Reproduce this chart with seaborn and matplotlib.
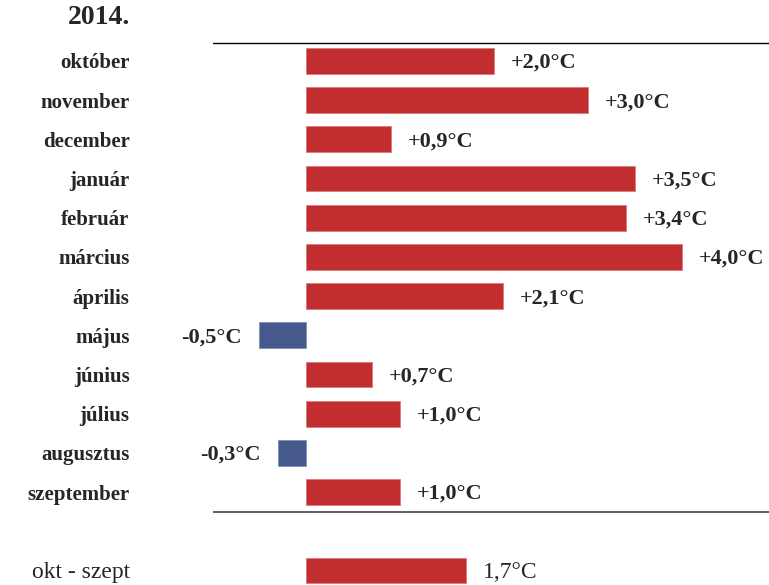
import pandas as pd
import seaborn as sns
import matplotlib.pyplot as plt
from matplotlib.transforms import blended_transform_factory

# havi eltérések 2014
honapok = ['október', 'november', 'december', 'január', 'február', 'március',
           'április', 'május', 'június', 'július', 'augusztus', 'szeptember']
ertekek = [2.0, 3.0, 0.9, 3.5, 3.4, 4.0, 2.1, -0.5, 0.7, 1.0, -0.3, 1.0]
osszes_cimke = 'okt - szept'
osszes_ertek = 1.7
cim = '2014.'

df = pd.DataFrame({'honap': honapok + [osszes_cimke],
                   'ertek': ertekek + [osszes_ertek]})
df['elojel'] = ['neg' if v < 0 else 'pos' for v in df['ertek']]
sorrend = honapok + [' '] + [osszes_cimke]

sns.set_style('white')
plt.rcParams['font.family'] = ['Liberation Serif', 'DejaVu Serif']

fig = plt.figure(figsize=(7.69, 5.85), dpi=100)
ax = fig.add_axes([213 / 769, 0, 556 / 769, 1])

sns.barplot(data=df, x='ertek', y='honap', hue='elojel', order=sorrend,
            palette={'pos': '#C22D30', 'neg': '#46598C'}, width=0.66,
            saturation=1, legend=False, ax=ax, edgecolor='#DB7A7C', linewidth=0.6)
for p in ax.patches:
    if p.get_width() < 0:
        p.set_edgecolor('#8090B5')

ax.set_xlim(-0.989, 4.926)
ax.set_ylim(13.37, -1.556)
ax.axhline(-0.46, color='black', lw=1)
ax.axhline(11.5, color='#444444', lw=1.2)

for h, v in zip(df['honap'], df['ertek']):
    y = sorrend.index(h)
    if h == osszes_cimke:
        txt = f'{v:.1f}°C'.replace('.', ',')
        ax.text(v + 0.18, y + 0.05, txt, va='center', ha='left', fontsize=17)
    elif v >= 0:
        txt = f'+{v:.1f}°C'.replace('.', ',')
        ax.text(v + 0.18, y + 0.05, txt, va='center', ha='left', fontsize=16, fontweight='bold')
    else:
        txt = f'{v:.1f}°C'.replace('.', ',')
        ax.text(v - 0.18, y + 0.05, txt, va='center', ha='right', fontsize=16, fontweight='bold')

ax.set_xlabel('')
ax.set_ylabel('')
ax.set_xticks([])
ax.set_yticks(range(len(honapok)))
ax.set_yticklabels(honapok)
ax.tick_params(axis='y', length=0, pad=60)
for lab in ax.get_yticklabels():
    lab.set_fontsize(15)
    lab.set_fontweight('bold')
sns.despine(ax=ax, left=True, bottom=True)

# összesítő sor felirata (nem félkövér)
tr = blended_transform_factory(fig.transFigure, ax.transData)
ax.text(130 / 769, sorrend.index(osszes_cimke) + 0.05, osszes_cimke, transform=tr,
        ha='right', va='center', fontsize=17)

fig.text(130 / 769, 1 - 18 / 585, cim, ha='right', va='center', fontsize=20, fontweight='bold')

fig.savefig('out.png', dpi=100)
